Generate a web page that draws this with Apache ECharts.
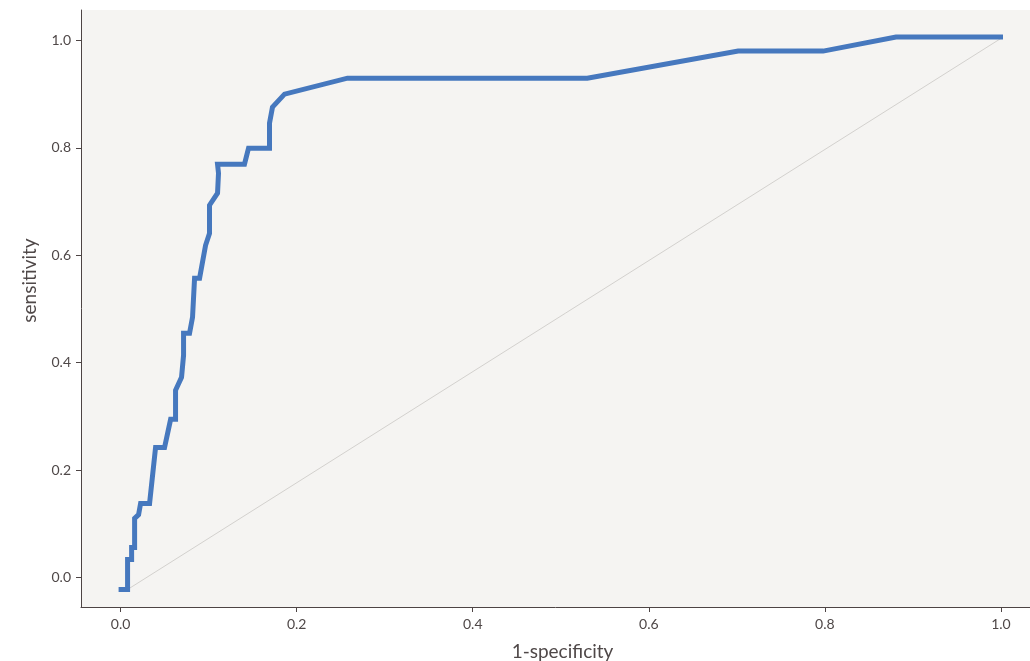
<!DOCTYPE html>
<html>
<head>
<meta charset="utf-8">
<script src="https://cdn.jsdelivr.net/npm/echarts@6/dist/echarts.min.js"></script>
<style>html,body{margin:0;padding:0;background:#fff}#c{width:1030px;height:661px}</style>
</head>
<body>
<div id="c"></div>
<script>
// ROC curve points: [1-specificity, sensitivity]
const rocX = [-0.0023,0.0079,0.0079,0.0125,0.0125,0.0159,0.0159,0.0204,0.0227,0.0329,0.0397,0.0499,0.0568,0.0624,0.0624,0.0692,0.0715,0.0715,0.0783,0.0817,0.0840,0.0897,0.0965,0.1010,0.1010,0.1101,0.1112,0.1101,0.1407,0.1453,0.1691,0.1691,0.1725,0.1862,0.2577,0.5301,0.7015,0.7980,0.8808,1.0023];
const rocY = [-0.0224,-0.0224,0.0336,0.0336,0.0559,0.0559,0.110,0.117,0.138,0.138,0.242,0.242,0.2945,0.2945,0.3486,0.3728,0.4138,0.4548,0.4548,0.4846,0.5573,0.5573,0.6188,0.6412,0.6934,0.7157,0.7530,0.7698,0.7698,0.7996,0.7996,0.8462,0.8760,0.9003,0.9301,0.9301,0.9804,0.9804,1.0065,1.0065];
// Reference diagonal endpoints
const diagX = [0.0079, 1.0023];
const diagY = [-0.0224, 1.0065];
// Tick labels
const xTicks = [0, 0.2, 0.4, 0.6, 0.8, 1.0];
const yTicks = [0, 0.2, 0.4, 0.6, 0.8, 1.0];

const roc = rocX.map((x, i) => [x, rocY[i]]);
const diag = diagX.map((x, i) => [x, diagY[i]]);

const font = 'Lato, "Open Sans", sans-serif';
const axisCol = '#4d4444';
const labCol = '#4f4848';

const chart = echarts.init(document.getElementById('c'), null, {renderer: 'canvas'});
chart.setOption({
  animation: false,
  backgroundColor: '#ffffff',
  grid: {
    left: 81, right: 0, top: 10, bottom: 54,
    show: true, backgroundColor: '#f5f4f2', borderWidth: 0,
    containLabel: false, outerBoundsMode: 'none'
  },
  xAxis: {
    type: 'value', min: -0.045, max: 1.033,
    name: '1-specificity', nameLocation: 'middle', nameGap: 35,
    nameTextStyle: {color: labCol, fontSize: 19, fontFamily: font, padding: [0, 0, 0, 14]},
    axisLine: {show: true, onZero: false, lineStyle: {color: axisCol, width: 1}},
    axisTick: {show: true, length: 5, lineStyle: {color: axisCol}, customValues: xTicks},
    axisLabel: {color: labCol, fontSize: 14, fontFamily: font, margin: 10, customValues: xTicks,
      formatter: v => v.toFixed(1)},
    splitLine: {show: false}
  },
  yAxis: {
    type: 'value', min: -0.055, max: 1.057,
    name: 'sensitivity', nameLocation: 'middle', nameGap: 42, nameRotate: 90,
    nameTextStyle: {color: labCol, fontSize: 19, fontFamily: font, padding: [0, 0, 0, 56]},
    axisLine: {show: true, onZero: false, lineStyle: {color: axisCol, width: 1}},
    axisTick: {show: true, length: 5, lineStyle: {color: axisCol}, customValues: yTicks},
    axisLabel: {color: labCol, fontSize: 14, fontFamily: font, margin: 10, customValues: yTicks,
      formatter: v => v.toFixed(1)},
    splitLine: {show: false}
  },
  series: [
    {
      type: 'line', data: diag, showSymbol: false, silent: true, z: 1,
      lineStyle: {color: '#d3d1ce', width: 1}
    },
    {
      type: 'line', data: roc, showSymbol: false, silent: true, z: 2,
      lineStyle: {color: '#4678be', width: 5, join: 'miter', cap: 'butt'}
    }
  ]
});
</script>
</body>
</html>
